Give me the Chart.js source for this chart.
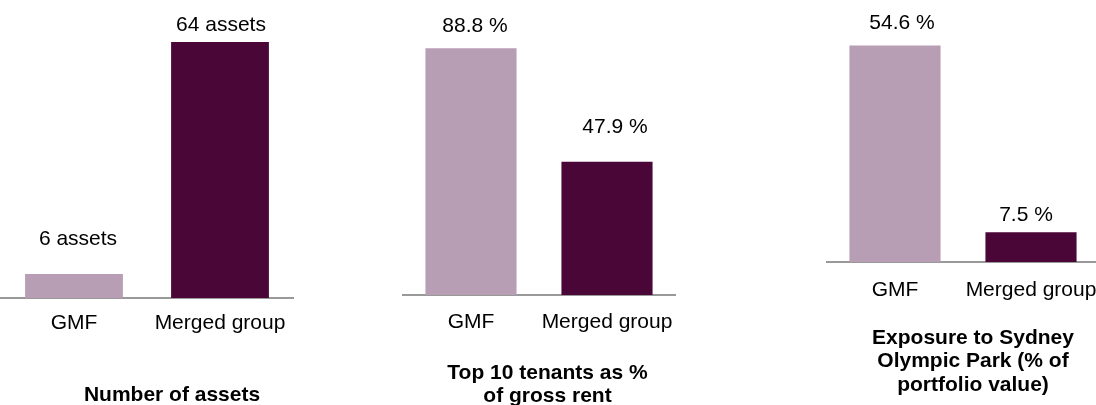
<!DOCTYPE html>
<html>
<head>
<meta charset="utf-8">
<script src="https://cdn.jsdelivr.net/npm/chart.js@4.4.0/dist/chart.umd.min.js"></script>
<style>
  html, body { margin: 0; padding: 0; background: #fff; }
  body { width: 1096px; height: 405px; overflow: hidden; position: relative; }
  canvas { position: absolute; top: 0; }
</style>
</head>
<body>
<canvas id="assetsChart" width="360" height="440" style="left:0px"></canvas>
<canvas id="tenantsChart" width="365" height="440" style="left:365px"></canvas>
<canvas id="sopChart" width="400" height="440" style="left:730px"></canvas>
<script>
const categories = ['GMF', 'Merged group'];
const assetCounts = [6, 64];
const topTenantShare = [88.8, 47.9];
const sopExposure = [54.6, 7.5];

const barColors = ['#b89eb4', '#4a0636'];
const fontFamily = '"Liberation Sans", Arial, sans-serif';

// value text above each bar
const valueLabels = {
  id: 'valueLabels',
  afterDatasetsDraw(chart, args, opts) {
    const ctx = chart.ctx;
    const meta = chart.getDatasetMeta(0);
    const values = chart.data.datasets[0].data;
    ctx.save();
    ctx.font = '21px ' + fontFamily;
    ctx.fillStyle = '#000';
    ctx.textAlign = 'center';
    ctx.textBaseline = 'alphabetic';
    meta.data.forEach((bar, i) => {
      ctx.fillText(opts.format(values[i]), bar.x + opts.shifts[i], bar.y - opts.gaps[i]);
    });
    ctx.restore();
  }
};

function makeChart(id, values, cfg) {
  return new Chart(document.getElementById(id), {
    type: 'bar',
    data: {
      labels: categories,
      datasets: [{
        data: values,
        backgroundColor: barColors,
        categoryPercentage: 1,
        barPercentage: 0.67
      }]
    },
    options: {
      responsive: false,
      animation: false,
      layout: { padding: cfg.padding },
      scales: {
        x: {
          grid: { display: false },
          border: { color: '#999999', width: 2 },
          ticks: {
            color: '#000',
            padding: cfg.tickPad,
            autoSkip: false,
            maxRotation: 0,
            minRotation: 0,
            font: { family: fontFamily, size: 21 }
          },
          afterFit(scale) { scale.height = 60; }
        },
        y: {
          position: 'right',
          min: 0,
          max: cfg.max,
          grid: { display: false },
          border: { display: false },
          ticks: { display: false },
          afterFit(scale) { scale.width = cfg.shift; }
        }
      },
      plugins: {
        legend: { display: false },
        tooltip: { enabled: false },
        title: {
          display: true,
          position: 'bottom',
          text: cfg.title,
          color: '#000',
          padding: { top: cfg.titlePad, bottom: 0 },
          font: { family: fontFamily, size: 21, weight: 'bold', lineHeight: 23.5 / 21 }
        },
        valueLabels: { format: cfg.format, gaps: cfg.gaps, shifts: cfg.shifts }
      }
    },
    plugins: [valueLabels]
  });
}

makeChart('assetsChart', assetCounts, {
  padding: { left: 1, right: 17, top: 18, bottom: 33.5 },
  max: 70, shift: 50, tickPad: 5, titlePad: 25,
  gaps: [29, 11], shifts: [4, 1],
  title: 'Number of assets',
  format: v => v + ' assets'
});

makeChart('tenantsChart', topTenantShare, {
  padding: { left: 38, right: 38, top: 17, bottom: 31.75 },
  max: 100, shift: 17, tickPad: 7, titlePad: 6.25,
  gaps: [16, 29], shifts: [4, 8],
  title: ['Top 10 tenants as %', 'of gross rent'],
  format: v => v.toFixed(1) + ' %'
});

makeChart('sopChart', sopExposure, {
  padding: { left: 97, right: 11, top: 24, bottom: 43.25 },
  max: 60, shift: 20, tickPad: 8, titlePad: 4.25,
  gaps: [16, 11], shifts: [7, -5],
  title: ['Exposure to Sydney', 'Olympic Park (% of', 'portfolio value)'],
  format: v => v.toFixed(1) + ' %'
});
</script>
</body>
</html>
